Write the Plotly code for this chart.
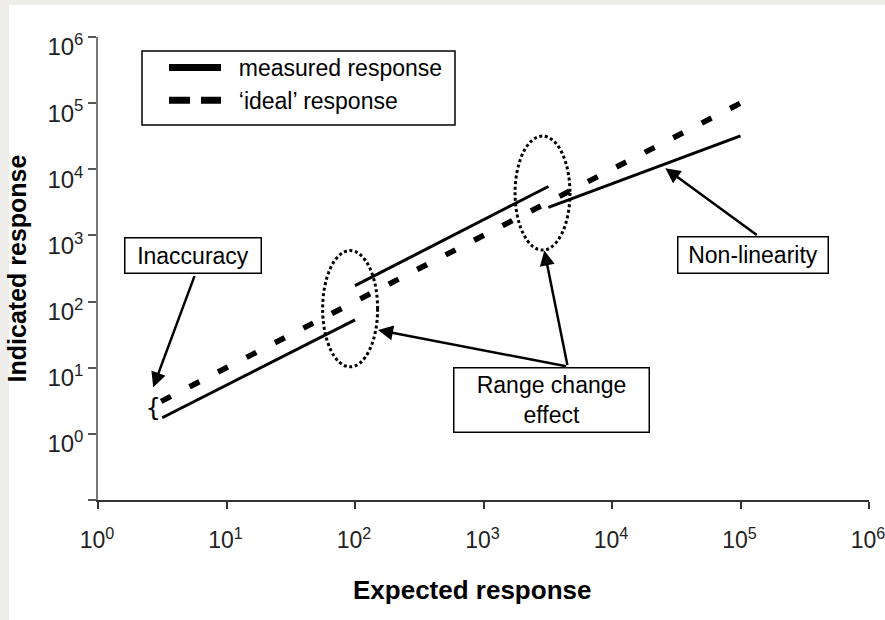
import math
import plotly.graph_objects as go

# ---------------- data ----------------
ideal_x = [3.1, 100000]
ideal_y = [3.1, 100000]

# measured response: three range segments (None = break between ranges)
measured_x = [3.16, 100, None, 100, 3200, None, 3200, 100000]
measured_y = [1.75, 53, None, 174, 5500, None, 2650, 32000]

x_tickvals = [1, 10, 100, 1000, 10000, 100000, 1000000]
x_ticktext = ["10<sup>0</sup>", "10<sup>1</sup>", "10<sup>2</sup>", "10<sup>3</sup>",
              "10<sup>4</sup>", "10<sup>5</sup>", "10<sup>6</sup>"]
y_tickvals = [0.1, 1, 10, 100, 1000, 10000, 100000, 1000000]
y_ticktext = ["", "10<sup>0</sup>", "10<sup>1</sup>", "10<sup>2</sup>", "10<sup>3</sup>",
              "10<sup>4</sup>", "10<sup>5</sup>", "10<sup>6</sup>"]

# range-change ellipses (data-space bounding boxes)
ellipses = [
    dict(x0=56, x1=150, y0=10.3, y1=590),
    dict(x0=1760, x1=4710, y0=600, y1=31800),
]

FONT = "Liberation Sans, Arial, sans-serif"
NB = "\u00a0"
L = math.log10

fig = go.Figure()

# actual data lines
fig.add_trace(go.Scatter(x=measured_x, y=measured_y, mode="lines",
                         line=dict(color="black", width=3),
                         connectgaps=False, showlegend=False,
                         legendgroup="m", hoverinfo="skip"))
fig.add_trace(go.Scatter(x=ideal_x, y=ideal_y, mode="lines",
                         line=dict(color="black", width=5.5, dash="11px,21px"),
                         showlegend=False, legendgroup="i", hoverinfo="skip"))
# legend entries (thicker samples as in the original)
fig.add_trace(go.Scatter(x=[None], y=[None], mode="lines", name=NB * 2 + "measured response",
                         line=dict(color="black", width=7), legendgroup="m"))
fig.add_trace(go.Scatter(x=[None], y=[None], mode="lines",
                         name=NB * 2 + "\u2018ideal\u2019 response",
                         line=dict(color="black", width=7, dash="21px,11px"), legendgroup="i"))

# plot-area geometry (pixels) used only to place decorations in paper space
pw, ph = 771.0, 463.0
ml, mt, mb = 98.0, 37.0, 120.0
def px2paper_x(px):
    return (px - ml) / pw
def py2paper_y(py):
    return 1 - (py - mt) / ph

shapes = []
for e in ellipses:
    shapes.append(dict(type="circle", xref="x", yref="y",
                       x0=e["x0"], x1=e["x1"], y0=e["y0"], y1=e["y1"],
                       line=dict(color="black", width=3, dash="3px,2.6px")))

# page-like grey border strips at top and left
shapes.append(dict(type="rect", xref="paper", yref="paper", layer="below",
                   x0=px2paper_x(0), x1=px2paper_x(9), y0=py2paper_y(620), y1=py2paper_y(0),
                   fillcolor="#efede9", line=dict(width=0)))
shapes.append(dict(type="rect", xref="paper", yref="paper", layer="below",
                   x0=px2paper_x(0), x1=px2paper_x(885), y0=py2paper_y(5), y1=py2paper_y(0),
                   fillcolor="#efede9", line=dict(width=0)))
# legend frame
shapes.append(dict(type="rect", xref="paper", yref="paper",
                   x0=px2paper_x(142), x1=px2paper_x(455), y0=py2paper_y(125), y1=py2paper_y(51),
                   line=dict(color="black", width=1.5), fillcolor="rgba(0,0,0,0)"))

annotations = []
box = dict(showarrow=False, bordercolor="black", borderwidth=1.5, bgcolor="white",
           font=dict(family=FONT, size=23, color="black"), borderpad=0)
annotations.append(dict(x=L(5.52), y=L(497), xref="x", yref="y", text="Inaccuracy",
                        width=135, height=34, **box))
annotations.append(dict(x=L(125900), y=L(506), xref="x", yref="y", text="Non-linearity",
                        width=149, height=35, **box))
annotations.append(dict(x=L(3370), y=L(3.28), xref="x", yref="y",
                        text="Range change<br>effect", width=194, height=63, **box))
annotations.append(dict(x=L(2.69), y=L(2.46), xref="x", yref="y", text="{",
                        showarrow=False, font=dict(family="DejaVu Sans Mono, monospace",
                                                   size=24, color="black")))
# x axis title (placed as in the original, slightly left of centre)
annotations.append(dict(x=px2paper_x(472), y=py2paper_y(590), xref="paper", yref="paper",
                        xanchor="center", yanchor="middle",
                        text="<b>Expected response</b>", showarrow=False,
                        font=dict(family=FONT, size=26, color="black")))

arrows = [
    ((2.69, 5.06), (5.69, 256)),      # Inaccuracy
    ((151, 37.2), (4520, 10.4)),      # Range change -> ellipse 1
    ((2972, 591), (4520, 10.4)),      # Range change -> ellipse 2
    ((26000, 10350), (137600, 980)),  # Non-linearity
]
for (hx, hy), (tx, ty) in arrows:
    annotations.append(dict(x=L(hx), y=L(hy), ax=L(tx), ay=L(ty), xref="x", yref="y",
                            axref="x", ayref="y", text="", showarrow=True,
                            arrowhead=2, arrowsize=1.2, arrowwidth=2.5,
                            arrowcolor="black", standoff=0, startstandoff=0))

fig.update_layout(
    width=885, height=620,
    margin=dict(l=98, r=16, t=37, b=120, autoexpand=False),
    paper_bgcolor="white", plot_bgcolor="white",
    font=dict(family=FONT, color="black"),
    shapes=shapes, annotations=annotations,
    showlegend=True,
    legend=dict(x=px2paper_x(164), y=py2paper_y(46), xanchor="left", yanchor="top",
                borderwidth=0, bgcolor="rgba(0,0,0,0)",
                font=dict(family=FONT, size=23, color="black"),
                itemwidth=52, tracegroupgap=0),
)
fig.update_xaxes(type="log", range=[-0.00001, 6.00001], tickvals=x_tickvals, ticktext=x_ticktext,
                 automargin=False,
                 showgrid=False, zeroline=False, showline=True, linecolor="#333333",
                 linewidth=1.5, ticks="outside", ticklen=7, tickwidth=1.5, tickcolor="#333333",
                 tickfont=dict(family=FONT, size=23, color="#222222"),
                 ticklabelstandoff=12, ticklabelshift=-1, ticklabeloverflow="allow")
fig.update_yaxes(type="log", range=[-1.00001, 6.00001], tickvals=y_tickvals, ticktext=y_ticktext,
                 automargin=False,
                 showgrid=False, zeroline=False, showline=True, linecolor="#777777",
                 linewidth=1.5, ticks="outside", ticklen=8, tickwidth=1.5, tickcolor="#555555",
                 tickfont=dict(family=FONT, size=24, color="#222222"),
                 ticklabelshift=10, ticklabeloverflow="allow",
                 title=dict(text="<b>Indicated response</b>", standoff=14,
                            font=dict(family=FONT, size=25, color="black")))

fig.write_html("out.html")
